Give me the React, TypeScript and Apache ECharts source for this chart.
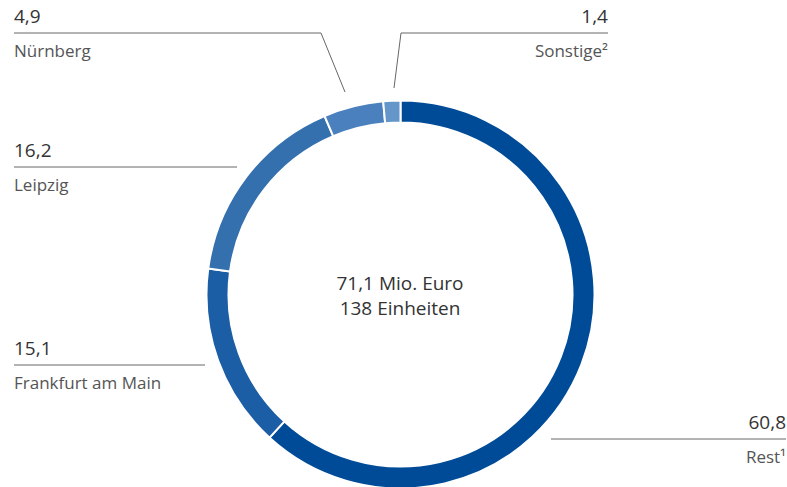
import React, { useEffect, useRef } from "react";
import * as echarts from "echarts";

const categories = ["Rest¹", "Frankfurt am Main", "Leipzig", "Nürnberg", "Sonstige²"];
const values = [60.8, 15.1, 16.2, 4.9, 1.4];
const valueLabels = ["60,8", "15,1", "16,2", "4,9", "1,4"];
const colors = ["#004b98", "#1c5ea5", "#346fae", "#4a80bd", "#6596ca"];
const centerLines = ["71,1 Mio. Euro", "138 Einheiten"];

// label layout (positions only)
const labelLayouts = [
  { x: 786, y: 439, align: "right", pts: [[551, 439], [551, 439], [786, 439]] },
  { x: 14, y: 365, align: "left", pts: [[205, 365], [205, 365], [14, 365]] },
  { x: 14, y: 167, align: "left", pts: [[237, 167], [237, 167], [14, 167]] },
  { x: 14, y: 33, align: "left", pts: [[345, 92], [321, 33], [14, 33]] },
  { x: 608, y: 33, align: "right", pts: [[394, 88], [401, 33], [608, 33]] },
];

const FONT = "'Open Sans', sans-serif";

export default function App() {
  const ref = useRef<HTMLDivElement>(null);
  useEffect(() => {
    document.body.style.margin = "0";
    const chart = echarts.init(ref.current!, undefined, { renderer: "svg" });
    chart.setOption({
      animation: false,
      textStyle: { fontFamily: FONT },
      graphic: centerLines.map((t, i) => ({
        type: "text",
        x: 400,
        y: 283 + i * 25,
        style: {
          text: t,
          fill: "#333",
          font: `19px ${FONT}`,
          align: "center",
          verticalAlign: "middle",
        },
      })),
      series: [
        {
          type: "pie",
          center: [400.5, 294.5],
          radius: [172, 194],
          startAngle: 90,
          clockwise: true,
          avoidLabelOverlap: false,
          itemStyle: { borderColor: "#fff", borderWidth: 2 },
          emphasis: { disabled: true },
          data: categories.map((c, i) => ({
            name: c,
            value: values[i],
            itemStyle: { color: colors[i] },
          })),
          label: {
            show: true,
            position: "outside",
            formatter: (p: any) => `{v|${valueLabels[p.dataIndex]}}\n{n|${p.name}}`,
            rich: {
              v: { fontSize: 19, color: "#333", lineHeight: 34, fontFamily: FONT },
              n: { fontSize: 17, color: "#555", lineHeight: 34, fontFamily: FONT },
            },
          },
          labelLine: { show: true, lineStyle: { color: "#666", width: 1 } },
          labelLayout: (p: any) => {
            const l = labelLayouts[p.dataIndex];
            return {
              x: l.x,
              y: l.y,
              align: l.align,
              verticalAlign: "middle",
              labelLinePoints: l.pts,
            };
          },
        },
      ],
    });
    return () => chart.dispose();
  }, []);
  return <div ref={ref} style={{ width: 787, height: 487 }} />;
}
